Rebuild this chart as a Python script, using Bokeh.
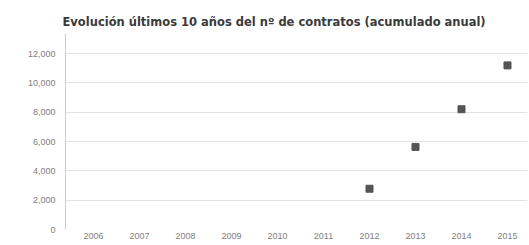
from bokeh.plotting import figure
from bokeh.models import ColumnDataSource, FixedTicker, NumeralTickFormatter, Range1d
from bokeh.embed import file_html
from bokeh.resources import INLINE

years = [2006, 2007, 2008, 2009, 2010, 2011, 2012, 2013, 2014, 2015]
data_years = [2012, 2013, 2014, 2015]
contratos = [2780, 5630, 8200, 11190]
y_ticks = [0, 2000, 4000, 6000, 8000, 10000, 12000]
title_text = "Evolución últimos 10 años del nº de contratos (acumulado anual)"

src = ColumnDataSource(dict(x=data_years, y=contratos))

p = figure(width=529, height=245, output_backend="svg", toolbar_location=None,
           x_range=Range1d(2005.391, 2015.435), y_range=Range1d(0, 13364),
           min_border_left=65, min_border_right=2, min_border_top=33, min_border_bottom=16)

p.title.text = title_text
p.title.text_font = "DejaVu Sans"
p.title.text_font_size = "11.5px"
p.title.text_font_style = "bold"
p.title.text_color = "#3a3a3a"
p.title.align = "left"
p.title.offset = -3

p.scatter("x", "y", source=src, marker="square", size=7, color="#555555")

p.outline_line_color = None
p.background_fill_color = "white"
p.border_fill_color = "white"

p.xgrid.grid_line_color = None
p.ygrid.grid_line_color = "#e2e2e2"
p.ygrid.grid_line_width = 1

p.yaxis.ticker = FixedTicker(ticks=y_ticks)
p.yaxis.formatter = NumeralTickFormatter(format="0,0")
p.xaxis.ticker = FixedTicker(ticks=years)
p.yaxis.minor_tick_line_color = None
p.xaxis.minor_tick_line_color = None
p.yaxis.major_tick_line_color = None
p.xaxis.major_tick_line_color = None
p.yaxis.major_tick_out = 0
p.xaxis.major_tick_out = 0
p.yaxis.axis_line_color = "#cccccc"
p.xaxis.axis_line_color = None
for ax in (p.xaxis, p.yaxis):
    ax.major_label_text_font = "Liberation Sans"
    ax.major_label_text_font_size = "9px"
    ax.major_label_text_color = "#808080"
p.yaxis.major_label_standoff = 10
p.xaxis.major_label_standoff = 3

open("out.html", "w").write(file_html(p, INLINE))
